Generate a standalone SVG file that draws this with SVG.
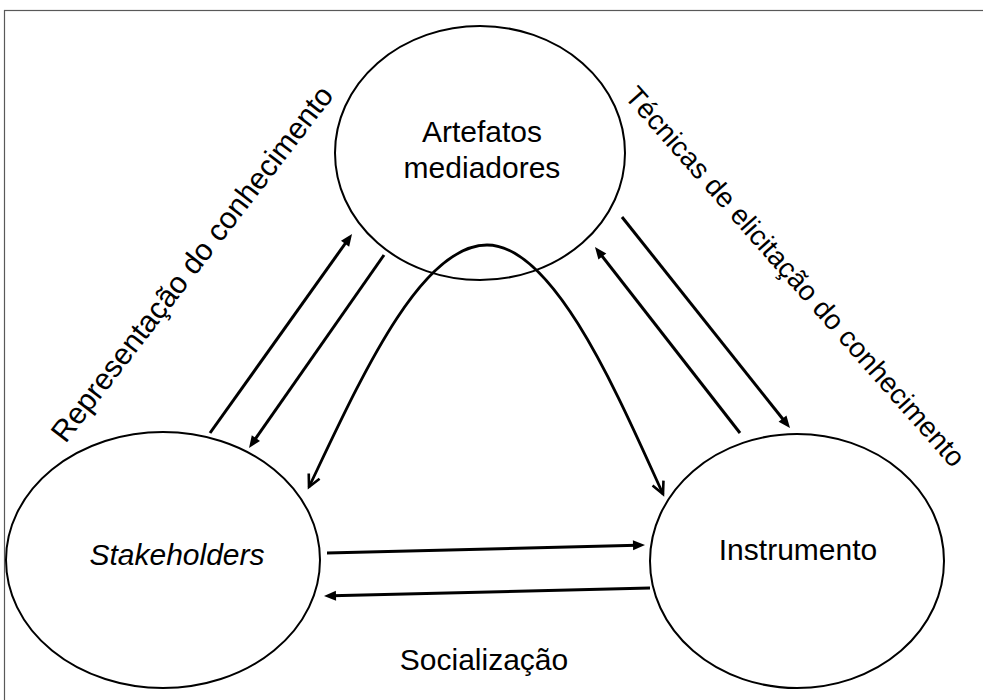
<svg xmlns="http://www.w3.org/2000/svg" width="983" height="700" viewBox="0 0 983 700">
  <style>
    .node { fill: #ffffff; stroke: #000000; stroke-width: 2; }
    .label { font-family: "Liberation Sans", Arial, sans-serif; font-size: 30px; fill: #000000; text-anchor: middle; }
    .label.small { font-size: 28px; }
    .edge { fill: none; stroke: #000000; stroke-width: 3; }
    .curve { fill: none; stroke: #000000; stroke-width: 2.8; }
  </style>
  <defs>
    <marker id="head" markerUnits="userSpaceOnUse" markerWidth="12" markerHeight="10" refX="4" refY="5" orient="auto" overflow="visible">
      <path d="M0,0 L12,5 L0,10 Z" fill="#000000"/>
    </marker>
    <marker id="vee" markerUnits="userSpaceOnUse" markerWidth="14" markerHeight="14" refX="12" refY="6" orient="auto-start-reverse" overflow="visible">
      <path d="M0,0 L12,6 L0,12" fill="none" stroke="#000000" stroke-width="2.6" stroke-linejoin="miter"/>
    </marker>
  </defs>

  <rect x="0" y="0" width="983" height="700" fill="#ffffff"/>
  <rect x="4.5" y="10.5" width="1000" height="720" fill="none" stroke="#595959" stroke-width="1.2"/>

  <g id="node-artefatos">
    <ellipse class="node" cx="480" cy="153" rx="145" ry="127"/>
    <text class="label" x="482" y="142">Artefatos</text>
    <text class="label" x="482" y="178">mediadores</text>
  </g>

  <g id="node-stakeholders">
    <ellipse class="node" cx="163" cy="560" rx="157" ry="128"/>
    <text class="label" x="177" y="565" font-style="italic">Stakeholders</text>
  </g>

  <g id="node-instrumento">
    <ellipse class="node" cx="797" cy="561" rx="147" ry="127"/>
    <text class="label" x="798" y="560">Instrumento</text>
  </g>

  <g id="connectors">
    <line class="edge" x1="210" y1="433" x2="347.4" y2="240.5" marker-end="url(#head)"/>
    <line class="edge" x1="384" y1="255" x2="253.6" y2="441.4" marker-end="url(#head)"/>
    <line class="edge" x1="622" y1="217" x2="785" y2="421.7" marker-end="url(#head)"/>
    <line class="edge" x1="740" y1="433" x2="599.9" y2="253.3" marker-end="url(#head)"/>
    <line class="edge" x1="327" y1="553" x2="637" y2="545.2" marker-end="url(#head)"/>
    <line class="edge" x1="650" y1="588" x2="332" y2="595.8" marker-end="url(#head)"/>
    <path class="curve" d="M309,487 C360,380 420,245 487,245 C555,245 620,400 663,494" marker-start="url(#vee)" marker-end="url(#vee)"/>
  </g>

  <g id="edge-labels">
    <text class="label" x="200" y="270" transform="rotate(-52.3 200 270)">Representação do conhecimento</text>
    <text class="label small" x="788" y="283" transform="rotate(48.5 788 283)">Técnicas de elicitação do conhecimento</text>
    <text class="label" x="484" y="670">Socialização</text>
  </g>
</svg>
